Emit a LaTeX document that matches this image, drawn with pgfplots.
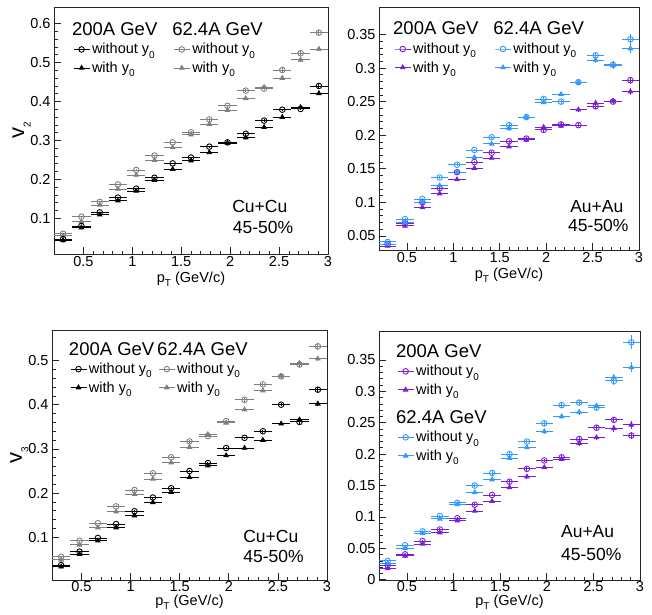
\documentclass[border=0pt]{standalone}
\usepackage{pgfplots}
\pgfplotsset{compat=1.18}
\usepackage{pgfplotstable}
\usepackage{fontspec}
\setmainfont{Liberation Sans}
\definecolor{cblack}{RGB}{0,0,0}
\definecolor{cgray}{RGB}{128,128,128}
\definecolor{cpurple}{RGB}{122,30,214}
\definecolor{cblue}{RGB}{51,153,255}
\newcommand{\sub}[1]{\raisebox{-0.55ex}{\fontsize{10}{10}\selectfont #1}}

% columns: a = 200A without y0, b = 200A with y0, c = 62.4A without y0, d = 62.4A with y0
\pgfplotstableread{
x a ea b eb c ec d ed
0.293 0.046 0.001 0.043 0.001 0.060 0.001 0.055 0.001
0.480 0.080 0.001 0.076 0.001 0.104 0.001 0.091 0.001
0.667 0.115 0.001 0.109 0.001 0.142 0.001 0.134 0.001
0.853 0.153 0.001 0.145 0.001 0.187 0.002 0.175 0.002
1.040 0.176 0.001 0.170 0.001 0.224 0.002 0.211 0.002
1.227 0.204 0.002 0.198 0.002 0.261 0.002 0.249 0.002
1.413 0.241 0.002 0.226 0.002 0.295 0.002 0.282 0.002
1.600 0.256 0.002 0.248 0.002 0.321 0.003 0.315 0.003
1.787 0.284 0.002 0.269 0.002 0.354 0.003 0.342 0.003
1.973 0.295 0.002 0.293 0.002 0.389 0.003 0.378 0.003
2.160 0.317 0.003 0.307 0.003 0.428 0.004 0.408 0.004
2.347 0.351 0.003 0.334 0.003 0.433 0.004 0.437 0.004
2.533 0.379 0.003 0.360 0.003 0.481 0.004 0.460 0.004
2.720 0.381 0.004 0.385 0.004 0.524 0.005 0.507 0.005
2.907 0.440 0.004 0.421 0.004 0.577 0.007 0.535 0.006
}\tabA
\pgfplotstableread{
x a ea b eb c ec d ed
0.293 0.038 0.001 0.035 0.001 0.041 0.001 0.038 0.001
0.480 0.069 0.001 0.065 0.001 0.075 0.001 0.070 0.001
0.667 0.100 0.001 0.0925 0.001 0.105 0.001 0.100 0.001
0.853 0.121 0.002 0.113 0.002 0.137 0.002 0.125 0.002
1.040 0.145 0.002 0.134 0.002 0.156 0.002 0.145 0.002
1.227 0.160 0.002 0.151 0.002 0.178 0.002 0.167 0.002
1.413 0.174 0.002 0.166 0.002 0.197 0.002 0.187 0.002
1.600 0.191 0.002 0.183 0.002 0.215 0.003 0.210 0.003
1.787 0.195 0.002 0.193 0.002 0.227 0.003 0.227 0.003
1.973 0.208 0.003 0.212 0.003 0.254 0.003 0.249 0.003
2.160 0.216 0.003 0.214 0.003 0.250 0.003 0.261 0.003
2.347 0.215 0.003 0.238 0.003 0.279 0.004 0.279 0.004
2.533 0.243 0.004 0.248 0.004 0.319 0.005 0.312 0.005
2.720 0.250 0.004 0.251 0.004 0.305 0.006 0.304 0.006
2.907 0.282 0.005 0.265 0.005 0.343 0.008 0.329 0.006
}\tabB
\pgfplotstableread{
x a ea b eb c ec d ed
0.293 0.037 0.001 0.0335 0.001 0.056 0.001 0.049 0.001
0.480 0.0675 0.001 0.062 0.001 0.092 0.001 0.083 0.001
0.667 0.0985 0.001 0.0925 0.001 0.132 0.001 0.122 0.001
0.853 0.130 0.001 0.122 0.001 0.170 0.002 0.158 0.002
1.040 0.159 0.002 0.149 0.002 0.207 0.002 0.1975 0.002
1.227 0.190 0.002 0.179 0.002 0.245 0.002 0.232 0.002
1.413 0.211 0.002 0.202 0.002 0.281 0.002 0.269 0.002
1.600 0.250 0.002 0.236 0.002 0.317 0.003 0.304 0.003
1.787 0.268 0.002 0.262 0.002 0.329 0.003 0.333 0.003
1.973 0.302 0.003 0.285 0.003 0.363 0.003 0.359 0.003
2.160 0.325 0.003 0.302 0.003 0.411 0.004 0.389 0.004
2.347 0.340 0.003 0.320 0.003 0.446 0.004 0.432 0.004
2.533 0.400 0.004 0.357 0.004 0.464 0.005 0.465 0.005
2.720 0.361 0.004 0.366 0.004 0.491 0.005 0.494 0.005
2.907 0.434 0.005 0.402 0.005 0.532 0.008 0.504 0.006
}\tabC
\pgfplotstableread{
x a ea b eb c ec d ed
0.293 0.023 0.001 0.018 0.001 0.030 0.001 0.026 0.001
0.480 0.0405 0.001 0.038 0.001 0.055 0.001 0.050 0.001
0.667 0.0615 0.001 0.057 0.001 0.077 0.001 0.074 0.001
0.853 0.080 0.002 0.075 0.002 0.1015 0.002 0.097 0.002
1.040 0.098 0.002 0.094 0.002 0.1225 0.002 0.120 0.002
1.227 0.1195 0.002 0.1095 0.002 0.150 0.002 0.139 0.002
1.413 0.135 0.002 0.125 0.002 0.170 0.003 0.1595 0.003
1.600 0.156 0.003 0.147 0.003 0.200 0.003 0.1935 0.003
1.787 0.1765 0.003 0.164 0.003 0.220 0.003 0.2105 0.003
1.973 0.190 0.003 0.179 0.003 0.249 0.004 0.236 0.004
2.160 0.195 0.003 0.192 0.003 0.278 0.004 0.260 0.004
2.347 0.224 0.004 0.2175 0.004 0.282 0.004 0.267 0.004
2.533 0.242 0.004 0.2265 0.004 0.274 0.005 0.277 0.005
2.720 0.2545 0.005 0.241 0.005 0.3165 0.007 0.322 0.006
2.907 0.2295 0.006 0.2465 0.006 0.378 0.011 0.338 0.008
}\tabD

\pgfplotsset{
  panel/.style={scale only axis, anchor=south west,
    xmin=0.2, xmax=3,
    tick align=inside, tick pos=left,
    xtick={0.5,1,1.5,2,2.5,3},
    minor x tick num=4, minor y tick num=4,
    major tick length=7pt, minor tick length=3.5pt,
    axis line style={line width=0.9pt, black!85},
    every tick/.style={black!85, line width=0.7pt},
    tick label style={font=\fontsize{14.5}{16}\selectfont},
    /pgf/number format/assume math mode=true,
    xticklabel style={/pgf/number format/fixed, yshift=1pt},
    yticklabel style={/pgf/number format/fixed, /pgf/number format/precision=2},
    xlabel={p\sub{T} (GeV/c)},
    xlabel style={at={(axis description cs:0.5,0)}, anchor=north, yshift=-18pt, inner sep=0pt, font=\fontsize{14.5}{16}\selectfont},
    ylabel style={at={(axis description cs:-0.085,0.5)}, anchor=south, inner sep=0pt, font=\fontsize{22}{24}\selectfont},
    legend image code/.code={\draw[mark repeat=2,mark phase=2] plot coordinates {(0pt,0pt)(8pt,0pt)(16pt,0pt)};},
    legend cell align=left,
    legend style={draw=none, fill=none, inner sep=0pt, anchor=north west,
      font=\fontsize{14.5}{16}\selectfont, row sep=2.5pt},
  },
  lowpanel/.style={xticklabel style={yshift=1.5pt}, xlabel style={yshift=3.5pt}},
  ser/.style={only marks, line width=0.9pt, forget plot,
    error bars/.cd, x dir=both, x fixed=0.0933, y dir=both, y explicit,
    error mark=none, error bar style={line width=0.9pt}},
  circ/.style={mark=o, mark size=2.8pt, mark options={fill=white}},
  tri/.style={mark=triangle*, mark size=2.5pt},
}
\newcommand{\hdr}[1]{\hspace*{-20pt}\fontsize{18.5}{20}\selectfont #1}
\newcommand{\ann}[3]{\node[anchor=base west, inner sep=0pt, font=\fontsize{17.5}{19}\selectfont] at (axis description cs:#1,#2) {#3};}

\begin{document}
\begin{tikzpicture}
\path[use as bounding box] (0pt,0pt) rectangle (652pt,614pt);

% ---------- top left: Cu+Cu v2
\begin{axis}[panel, at={(54pt,360pt)}, width=274pt, height=247pt,
  ymin=0.008, ymax=0.643, ytick={0.1,0.2,0.3,0.4,0.5,0.6},
  ylabel={v\sub{2}},
  legend columns=2,
  legend style={at={(axis description cs:0.069,0.946)},
    /tikz/every even column/.append style={column sep=14pt}}]
\addlegendimage{empty legend}\addlegendentry{\hdr{200A GeV}}
\addlegendimage{empty legend}\addlegendentry{\hdr{62.4A GeV}}
\addlegendimage{cblack, circ, line width=0.9pt}\addlegendentry{without y\sub{0}}
\addlegendimage{cgray, circ, line width=0.9pt}\addlegendentry{without y\sub{0}}
\addlegendimage{cblack, tri, line width=0.9pt}\addlegendentry{with y\sub{0}}
\addlegendimage{cgray, tri, line width=0.9pt}\addlegendentry{with y\sub{0}}
\addplot[cgray, tri, ser] table[x=x, y=d, y error=ed] {\tabA};
\addplot[cgray, circ, ser] table[x=x, y=c, y error=ec] {\tabA};
\addplot[cblack, tri, ser] table[x=x, y=b, y error=eb] {\tabA};
\addplot[cblack, circ, ser] table[x=x, y=a, y error=ea] {\tabA};
\ann{0.65}{0.166}{Cu+Cu}
\ann{0.652}{0.085}{45-50\%}
\end{axis}

% ---------- top right: Au+Au v2
\begin{axis}[panel, at={(379pt,364pt)}, width=260pt, height=243pt,
  ymin=0.029, ymax=0.391, ytick={0.05,0.1,0.15,0.2,0.25,0.3,0.35},
  legend columns=2,
  legend style={at={(axis description cs:0.058,0.947)},
    /tikz/every even column/.append style={column sep=14pt}}]
\addlegendimage{empty legend}\addlegendentry{\hdr{200A GeV}}
\addlegendimage{empty legend}\addlegendentry{\hdr{62.4A GeV}}
\addlegendimage{cpurple, circ, line width=0.9pt}\addlegendentry{without y\sub{0}}
\addlegendimage{cblue, circ, line width=0.9pt}\addlegendentry{without y\sub{0}}
\addlegendimage{cpurple, tri, line width=0.9pt}\addlegendentry{with y\sub{0}}
\addlegendimage{cblue, tri, line width=0.9pt}\addlegendentry{with y\sub{0}}
\addplot[cpurple, tri, ser] table[x=x, y=b, y error=eb] {\tabB};
\addplot[cpurple, circ, ser] table[x=x, y=a, y error=ea] {\tabB};
\addplot[cblue, tri, ser] table[x=x, y=d, y error=ed] {\tabB};
\addplot[cblue, circ, ser] table[x=x, y=c, y error=ec] {\tabB};
\ann{0.735}{0.156}{Au+Au}
\ann{0.727}{0.078}{45-50\%}
\end{axis}

% ---------- bottom left: Cu+Cu v3
\begin{axis}[panel, lowpanel, at={(52pt,34pt)}, width=275pt, height=250pt,
  ymin=0.0034, ymax=0.569, ytick={0.1,0.2,0.3,0.4,0.5},
  ylabel={v\sub{3}},
  legend columns=2,
  legend style={at={(axis description cs:0.065,0.96)},
    /tikz/every even column/.append style={column sep=2pt}}]
\addlegendimage{empty legend}\addlegendentry{\hdr{200A GeV}}
\addlegendimage{empty legend}\addlegendentry{\hdr{62.4A GeV}}
\addlegendimage{cblack, circ, line width=0.9pt}\addlegendentry{without y\sub{0}}
\addlegendimage{cgray, circ, line width=0.9pt}\addlegendentry{without y\sub{0}}
\addlegendimage{cblack, tri, line width=0.9pt}\addlegendentry{with y\sub{0}}
\addlegendimage{cgray, tri, line width=0.9pt}\addlegendentry{with y\sub{0}}
\addplot[cgray, tri, ser] table[x=x, y=d, y error=ed] {\tabC};
\addplot[cgray, circ, ser] table[x=x, y=c, y error=ec] {\tabC};
\addplot[cblack, tri, ser] table[x=x, y=b, y error=eb] {\tabC};
\addplot[cblack, circ, ser] table[x=x, y=a, y error=ea] {\tabC};
\ann{0.695}{0.152}{Cu+Cu}
\ann{0.695}{0.072}{45-50\%}
\end{axis}

% ---------- bottom right: Au+Au v3
\begin{axis}[panel, lowpanel, at={(379pt,34pt)}, width=261pt, height=249pt,
  ymin=-0.0004, ymax=0.396, ytick={0,0.05,0.1,0.15,0.2,0.25,0.3,0.35},
  legend columns=1,
  legend style={at={(axis description cs:0.069,0.955)}}]
\addlegendimage{empty legend}\addlegendentry{\hdr{200A GeV}}
\addlegendimage{cpurple, circ, line width=0.9pt}\addlegendentry{without y\sub{0}}
\addlegendimage{cpurple, tri, line width=0.9pt}\addlegendentry{with y\sub{0}}
\addlegendimage{empty legend}\addlegendentry{\hdr{\rule{0pt}{21pt}62.4A GeV}}
\addlegendimage{cblue, circ, line width=0.9pt}\addlegendentry{without y\sub{0}}
\addlegendimage{cblue, tri, line width=0.9pt}\addlegendentry{with y\sub{0}}
\addplot[cpurple, tri, ser] table[x=x, y=b, y error=eb] {\tabD};
\addplot[cpurple, circ, ser] table[x=x, y=a, y error=ea] {\tabD};
\addplot[cblue, tri, ser] table[x=x, y=d, y error=ed] {\tabD};
\addplot[cblue, circ, ser] table[x=x, y=c, y error=ec] {\tabD};
\ann{0.697}{0.169}{Au+Au}
\ann{0.697}{0.080}{45-50\%}
\end{axis}
\end{tikzpicture}
\end{document}
